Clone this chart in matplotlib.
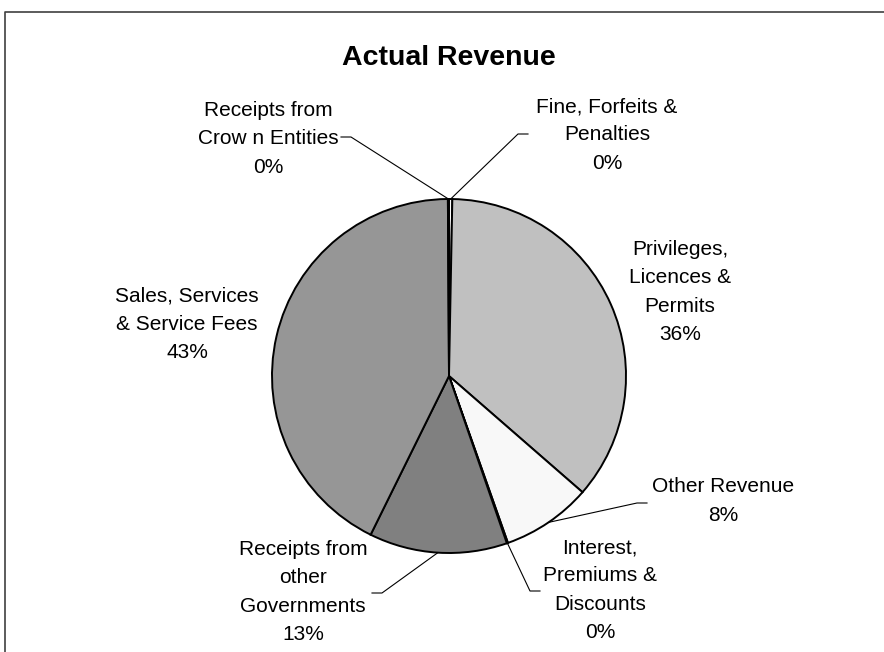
import numpy as np
import matplotlib.pyplot as plt

plt.rcParams['font.family'] = ['Liberation Sans', 'DejaVu Sans']

W, H = 884, 652

# Revenue shares (percent), clockwise from 12 o'clock
categories = [
    "Fine, Forfeits &\nPenalties",
    "Privileges,\nLicences &\nPermits",
    "Other Revenue",
    "Interest,\nPremiums &\nDiscounts",
    "Receipts from\nother\nGovernments",
    "Sales, Services\n& Service Fees",
    "Receipts from\nCrow n Entities",
]
shares = [0.3, 36.1, 8.2, 0.1, 12.6, 42.6, 0.1]
colors = ["#FFFFFF", "#C0C0C0", "#F8F8F8", "#FFFFFF", "#808080", "#969696", "#FFFFFF"]

# label centres (pixels from top-left) and leader elbow (text end, elbow) or None
label_pos = [(607, 135), (680, 292), (723, 501), (600, 590), (303, 592), (187, 324), (268, 139)]
leaders = [((528, 134), (518, 134)), None, ((647, 503), (637, 503)),
           ((540, 591), (530, 591)), ((372, 593), (382, 593)), None,
           ((341, 137), (351, 137))]

cx, cy, r = 449, 376, 177


def flip(p):
    return p[0], H - p[1]


fig = plt.figure(figsize=(W / 100, H / 100), dpi=100)
ax = fig.add_axes([0, 0, 1, 1])

wedges, _ = ax.pie(shares, colors=colors, startangle=90, counterclock=False,
                   center=flip((cx, cy)), radius=r,
                   wedgeprops=dict(edgecolor="black", linewidth=1.4))

ax.set_xlim(0, W)
ax.set_ylim(0, H)
ax.set_aspect("equal")
ax.axis("off")

total = sum(shares)
for w, name, v, pos, lead in zip(wedges, categories, shares, label_pos, leaders):
    txt = f"{name}\n{round(v / total * 100):.0f}%"
    x, y = flip(pos)
    ax.text(x, y, txt, ha="center", va="center", fontsize=15, linespacing=1.62)
    if lead is not None:
        mid = np.deg2rad((w.theta1 + w.theta2) / 2)
        ex = w.center[0] + w.r * np.cos(mid)
        ey = w.center[1] + w.r * np.sin(mid)
        (x0, y0), (x1, y1) = flip(lead[0]), flip(lead[1])
        ax.plot([x0, x1, ex], [y0, y1, ey], color="black", linewidth=0.8)

ax.text(*flip((449, 58)), "Actual Revenue", ha="center", va="center",
        fontsize=20.5, fontweight="bold")

# chart area border (runs off the right and bottom edges)
ax.plot([5, 5, W + 5], [-5, H - 12, H - 12], color="#404040", linewidth=1.2,
        clip_on=False)

fig.savefig("out.png", dpi=100)
